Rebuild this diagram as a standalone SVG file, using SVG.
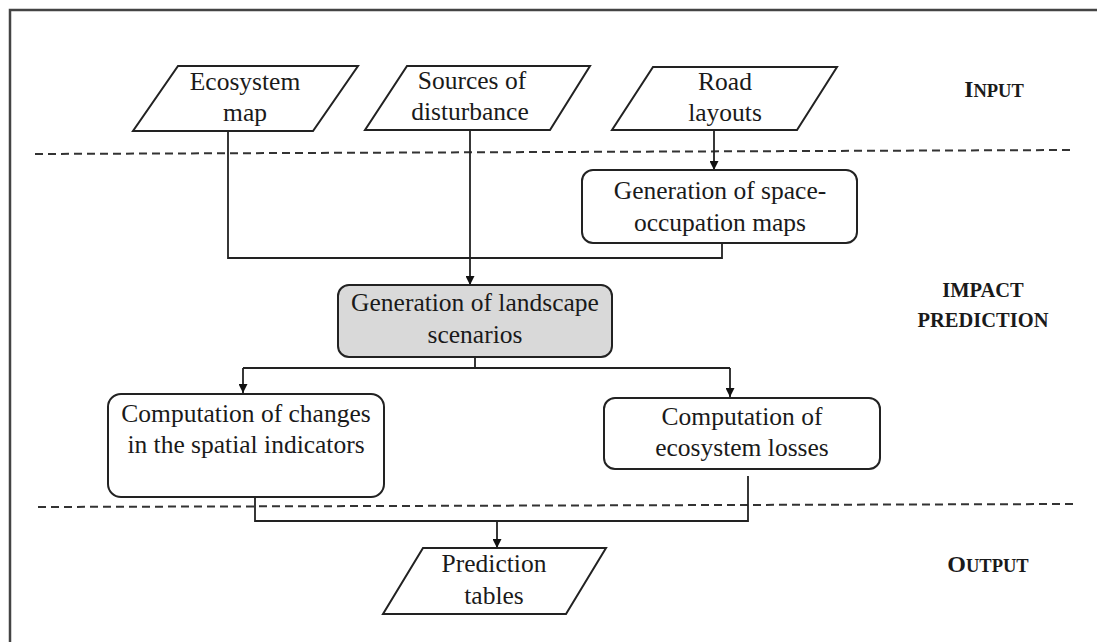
<svg xmlns="http://www.w3.org/2000/svg" width="1097" height="642" viewBox="0 0 1097 642">
<defs>
<marker id="arr" viewBox="0 0 10 10" refX="10" refY="5" markerWidth="9" markerHeight="9" markerUnits="userSpaceOnUse" orient="auto">
<path d="M0,0 L10,5 L0,10 z" fill="#111"/>
</marker>
<style>
.t{font-family:'Liberation Serif','Times New Roman',serif;font-size:25.5px;fill:#1a1a1a;text-anchor:middle}
.lab{font-family:'Liberation Serif','Times New Roman',serif;font-weight:bold;fill:#1a1a1a;text-anchor:middle}
.shape{fill:#fff;stroke:#222;stroke-width:2}
.grey{fill:#d9d9d9;stroke:#222;stroke-width:2}
.conn{fill:none;stroke:#222;stroke-width:1.8}
.dash{stroke:#333;stroke-width:2;stroke-dasharray:8 5}
.frame{stroke:#444;stroke-width:2.5;fill:none}
</style>
</defs>
<rect width="1097" height="642" fill="#fff"/>
<path class="frame" d="M10,642 L10,10 L1097,10"/>
<g id="dividers">
<line class="dash" x1="35" y1="154" x2="1070" y2="150"/>
<line class="dash" x1="38" y1="507" x2="1075" y2="504"/>
</g>
<g id="connectors">
<path class="conn" d="M228,131 V258 H722 V243"/>
<path class="conn" d="M470,130 V285" marker-end="url(#arr)"/>
<path class="conn" d="M714,130 V170" marker-end="url(#arr)"/>
<path class="conn" d="M475,357 V368"/>
<path class="conn" d="M243,368 H730"/>
<path class="conn" d="M243,368 V393" marker-end="url(#arr)"/>
<path class="conn" d="M730,368 V397" marker-end="url(#arr)"/>
<path class="conn" d="M255,497 V521 H748 V476"/>
<path class="conn" d="M497,521 V548" marker-end="url(#arr)"/>
</g>
<g id="ecosystem-map">
<polygon class="shape" points="178,66 358,66 313,131 133,131"/>
<text class="t" x="245" y="90">Ecosystem</text>
<text class="t" x="245" y="121">map</text>
</g>
<g id="sources">
<polygon class="shape" points="407,66 590,66 550,130 365,130"/>
<text class="t" x="472" y="89">Sources of</text>
<text class="t" x="470" y="120">disturbance</text>
</g>
<g id="road-layouts">
<polygon class="shape" points="653,67 837,67 797,130 612,130"/>
<text class="t" x="725" y="90">Road</text>
<text class="t" x="725" y="121">layouts</text>
</g>
<g id="space-occupation">
<rect class="shape" x="582" y="170" width="275" height="73" rx="11"/>
<text class="t" x="720" y="199">Generation of space-</text>
<text class="t" x="720" y="231">occupation maps</text>
</g>
<g id="landscape">
<rect class="grey" x="338" y="285" width="274" height="72" rx="11"/>
<text class="t" x="475" y="311">Generation of landscape</text>
<text class="t" x="475" y="343">scenarios</text>
</g>
<g id="spatial-indicators">
<rect class="shape" x="108" y="394" width="276" height="103" rx="13"/>
<text class="t" x="246" y="422">Computation of changes</text>
<text class="t" x="246" y="453">in the spatial indicators</text>
</g>
<g id="ecosystem-losses">
<rect class="shape" x="604" y="398" width="276" height="71" rx="11"/>
<text class="t" x="742" y="425">Computation of</text>
<text class="t" x="742" y="456">ecosystem losses</text>
</g>
<g id="prediction-tables">
<polygon class="shape" points="423,548 606,548 566,614 383,614"/>
<text class="t" x="494" y="572">Prediction</text>
<text class="t" x="494" y="604">tables</text>
</g>
<g id="labels">
<text class="lab" x="994" y="97" font-size="23.5">I<tspan font-size="18.5">NPUT</tspan></text>
<text class="lab" x="983" y="297" font-size="20.5">IMPACT</text>
<text class="lab" x="983" y="327" font-size="20.5">PREDICTION</text>
<text class="lab" x="988" y="572" font-size="24">O<tspan font-size="18.5">UTPUT</tspan></text>
</g>
</svg>
